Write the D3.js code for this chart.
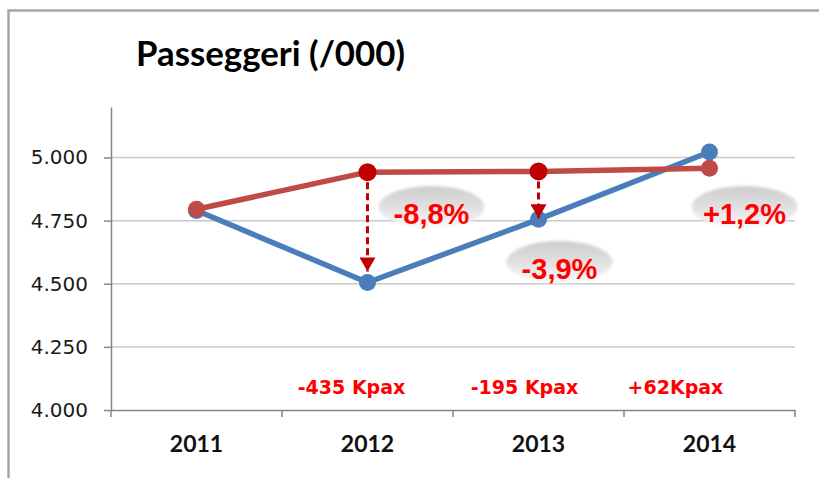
<!DOCTYPE html>
<html>
<head>
<meta charset="utf-8">
<script src="https://cdn.jsdelivr.net/npm/d3@7/dist/d3.min.js"></script>
<style>
  html, body { margin: 0; padding: 0; background: #fff; }
  svg { display: block; }
</style>
</head>
<body>
<svg id="chart" width="819" height="478"></svg>
<script>
// ---- data ----
const years = ["2011", "2012", "2013", "2014"];
const actualPax = [4790, 4505, 4755, 5022];   // blue series (/000)
const budgetPax = [4795, 4942, 4945, 4957];   // red series (/000)
const yTickValues = [4000, 4250, 4500, 4750, 5000];
const pctLabels = ["", "-8,8%", "-3,9%", "+1,2%"];
const kpaxLabels = ["", "-435 Kpax", "-195 Kpax", "+62Kpax"];
const arrowYears = ["2012", "2013"];
const emphasizedYears = ["2012", "2013"];
const titleText = "Passeggeri (/000)";

// ---- layout / style ----
const svg = d3.select("#chart");
const plot = { left: 111, right: 795, top: 107, bottom: 410 };
const colBlue = "#4A7EBB", colRed = "#BE4B48", colDark = "#C00000";

const x = d3.scaleBand().domain(years).range([plot.left, plot.right]).padding(0);
const y = d3.scaleLinear().domain([4000, 5200]).range([plot.bottom, plot.top]);
const cx = d => x(d) + x.bandwidth() / 2;

const itLocale = d3.formatLocale({ decimal: ",", thousands: ".", grouping: [3], currency: ["€", ""] });
const fmt = itLocale.format(",.0f");

const defs = svg.append("defs");
const grad = defs.append("linearGradient").attr("id", "ellGrad")
  .attr("x1", 0).attr("y1", 0).attr("x2", 0).attr("y2", 1);
grad.append("stop").attr("offset", "0%").attr("stop-color", "#cdcdcd");
grad.append("stop").attr("offset", "55%").attr("stop-color", "#e2e2e2");
grad.append("stop").attr("offset", "100%").attr("stop-color", "#f9f9f9");
defs.append("filter").attr("id", "soft").attr("x", "-20%").attr("y", "-30%").attr("width", "140%").attr("height", "160%")
  .append("feGaussianBlur").attr("stdDeviation", 1.6);
defs.append("marker").attr("id", "arrowHead")
  .attr("viewBox", "0 0 14 16").attr("refX", 14).attr("refY", 8)
  .attr("markerWidth", 14).attr("markerHeight", 16)
  .attr("markerUnits", "userSpaceOnUse").attr("orient", "auto")
  .append("path").attr("d", "M0,0 L14,8 L0,16 Z").attr("fill", colDark);

// frame
svg.append("path").attr("d", "M8.5,478 L8.5,10.5 L819,10.5")
  .attr("fill", "none").attr("stroke", "#a6a6a6").attr("stroke-width", 2.5);

// title
svg.append("text").attr("x", 136).attr("y", 66)
  .attr("font-family", "Lato, 'Open Sans', sans-serif").attr("font-weight", 700)
  .attr("font-size", 34.8).attr("fill", "#000").text(titleText);

// gridlines
svg.append("g").selectAll("line").data(yTickValues.filter(v => v > 4000)).join("line")
  .attr("x1", plot.left).attr("x2", plot.right)
  .attr("y1", d => y(d)).attr("y2", d => y(d))
  .attr("stroke", "#c8c8c8").attr("stroke-width", 1.5);

// y axis
const yAxis = svg.append("g").attr("transform", `translate(${plot.left},0)`)
  .call(d3.axisLeft(y).tickValues(yTickValues).tickFormat(fmt).tickSizeOuter(0).tickSizeInner(7).tickPadding(16));
yAxis.select(".domain").attr("stroke", "#868686").attr("stroke-width", 1.5);
yAxis.selectAll(".tick line").attr("stroke", "#868686").attr("stroke-width", 1.5);
yAxis.selectAll(".tick text").attr("font-family", "'DejaVu Sans', Verdana, sans-serif")
  .attr("font-size", 20).attr("fill", "#1a1a1a");

// x axis
const xAxis = svg.append("g").attr("transform", `translate(0,${plot.bottom})`)
  .call(d3.axisBottom(x).tickSize(0).tickSizeOuter(0).tickPadding(26));
xAxis.select(".domain").attr("stroke", "#868686").attr("stroke-width", 1.5);
xAxis.selectAll(".tick text").attr("font-family", "Lato, 'Open Sans', sans-serif")
  .attr("font-weight", 700).attr("font-size", 23).attr("fill", "#111");
const bounds = years.map(d => x(d)).concat([plot.right]);
xAxis.selectAll(".bnd").data(bounds).join("line").attr("class", "bnd")
  .attr("x1", d => d).attr("x2", d => d).attr("y1", 0).attr("y2", 7)
  .attr("stroke", "#868686").attr("stroke-width", 1.5);

// ellipses with % labels
const pctLayout = { "2012": [64, 207], "2013": [21, 262], "2014": [35, 207] };
const pctData = years.map((d, i) => ({ year: d, label: pctLabels[i] })).filter(d => d.label);
const pctG = svg.append("g").selectAll("g").data(pctData).join("g")
  .attr("transform", d => `translate(${cx(d.year) + pctLayout[d.year][0]},${pctLayout[d.year][1]})`);
pctG.append("ellipse").attr("rx", 53).attr("ry", 21)
  .attr("fill", "url(#ellGrad)").attr("filter", "url(#soft)");

// lines
const line = d3.line().x(d => cx(d.year)).y(d => y(d.v));
const blueData = years.map((d, i) => ({ year: d, v: actualPax[i] }));
const redData = years.map((d, i) => ({ year: d, v: budgetPax[i] }));

svg.append("path").datum(blueData).attr("d", line).attr("fill", "none")
  .attr("stroke", colBlue).attr("stroke-width", 5.5).attr("stroke-linejoin", "round");
svg.append("g").selectAll("circle").data(blueData).join("circle")
  .attr("cx", d => cx(d.year)).attr("cy", d => y(d.v)).attr("r", 8.5).attr("fill", colBlue);

svg.append("path").datum(redData).attr("d", line).attr("fill", "none")
  .attr("stroke", colRed).attr("stroke-width", 5.5).attr("stroke-linejoin", "round");
svg.append("g").selectAll("circle").data(redData).join("circle")
  .attr("cx", d => cx(d.year)).attr("cy", d => y(d.v))
  .attr("r", d => emphasizedYears.includes(d.year) ? 9 : 8.5)
  .attr("fill", d => emphasizedYears.includes(d.year) ? colDark : colRed);

// dashed arrows from red to blue
const arrowGap = { "2012": 11, "2013": 1 };
svg.append("g").selectAll("line").data(arrowYears).join("line")
  .attr("x1", d => cx(d)).attr("x2", d => cx(d))
  .attr("y1", d => y(budgetPax[years.indexOf(d)]) + 10)
  .attr("y2", d => y(actualPax[years.indexOf(d)]) - arrowGap[d])
  .attr("stroke", colDark).attr("stroke-width", 3).attr("stroke-dasharray", "7,4")
  .attr("marker-end", "url(#arrowHead)");

// % text
svg.append("g").selectAll("text").data(pctData).join("text")
  .attr("x", d => cx(d.year) + pctLayout[d.year][0])
  .attr("y", d => pctLayout[d.year][1] + 17)
  .attr("text-anchor", "middle")
  .attr("font-family", "'Liberation Sans', Arial, sans-serif").attr("font-weight", 700)
  .attr("font-size", 29).attr("fill", "#FF0000").text(d => d.label);

// Kpax labels
const kpaxDx = { "2012": -16, "2013": -14, "2014": -34 };
const kpaxData = years.map((d, i) => ({ year: d, label: kpaxLabels[i] })).filter(d => d.label);
svg.append("g").selectAll("text").data(kpaxData).join("text")
  .attr("x", d => cx(d.year) + kpaxDx[d.year]).attr("y", y(4000) - 16)
  .attr("text-anchor", "middle")
  .attr("font-family", "'DejaVu Sans', Verdana, sans-serif").attr("font-weight", 700)
  .attr("font-size", 19).attr("fill", "#FF0000").text(d => d.label);
</script>
</body>
</html>
